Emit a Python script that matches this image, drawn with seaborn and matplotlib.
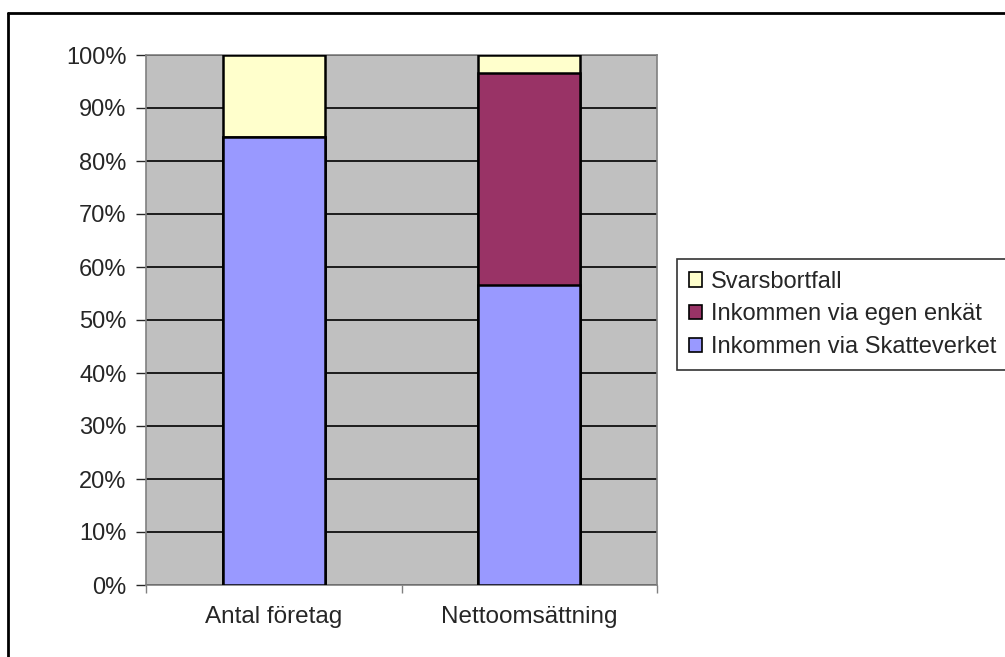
import matplotlib
matplotlib.use("Agg")
import matplotlib.pyplot as plt
from matplotlib.lines import Line2D
from matplotlib.patches import Patch
from matplotlib.ticker import PercentFormatter, FixedLocator
import numpy as np
import pandas as pd
import seaborn as sns

# data (percent of total)
categories = ["Antal företag", "Nettoomsättning"]
skatteverket = [84.5, 56.6]
egen_enkat = [0.0, 40.0]
svarsbortfall = [15.5, 3.4]

series_names = ["Inkommen via Skatteverket", "Inkommen via egen enkät", "Svarsbortfall"]
series_colors = ["#9999FF", "#993366", "#FFFFCC"]

sns.set_style("white")
plt.rcParams["font.family"] = ["Liberation Sans", "DejaVu Sans"]

# cumulative heights for stacking
layers = np.cumsum(np.array([skatteverket, egen_enkat, svarsbortfall]), axis=0)

fig = plt.figure(figsize=(10.05, 6.57), dpi=100)
ax = fig.add_axes([146 / 1005, 72 / 657, 511 / 1005, 530 / 657])
ax.set_facecolor("#C0C0C0")

# draw from the top layer down so lower segments sit in front
for i in range(len(series_names) - 1, -1, -1):
    df = pd.DataFrame({"cat": categories, "val": layers[i]})
    sns.barplot(data=df, x="cat", y="val", color=series_colors[i], width=0.4,
                edgecolor="black", linewidth=1.8, saturation=1, ax=ax, zorder=3)

ax.set_ylim(0, 100)
ax.set_xlim(-0.5, 1.5)
ax.yaxis.set_major_locator(FixedLocator(np.arange(0, 101, 10)))
ax.yaxis.set_major_formatter(PercentFormatter(decimals=0))
ax.grid(axis="y", color="black", linewidth=1.2, zorder=1)
ax.set_axisbelow(True)
ax.set_xlabel("")
ax.set_ylabel("")

ax.tick_params(axis="y", direction="out", length=7, width=1, labelsize=17, pad=7, left=True)
ax.tick_params(axis="x", which="major", length=0, labelsize=17.5, pad=15)
ax.set_xticks([-0.5, 0.5, 1.5], minor=True)
ax.tick_params(axis="x", which="minor", direction="out", length=6, width=1, color="#808080", bottom=True)

for side in ["top", "right", "left", "bottom"]:
    ax.spines[side].set_color("#808080")
    ax.spines[side].set_linewidth(1.2)

handles = [Patch(facecolor=series_colors[i], edgecolor="black", linewidth=1.2)
           for i in range(len(series_names) - 1, -1, -1)]
labels = series_names[::-1]
leg = fig.legend(handles, labels, loc="upper left",
                 bbox_to_anchor=(677 / 1005, 1 - 259 / 657), borderaxespad=0,
                 fontsize=17, frameon=True, fancybox=False, edgecolor="black",
                 handlelength=0.55, handleheight=0.55, handletextpad=0.4,
                 labelspacing=0.45, borderpad=0.5)
leg.get_frame().set_linewidth(1.2)

# outer chart border (only left and top edges visible)
fig.add_artist(Line2D([8 / 1005, 8 / 1005], [0, 1 - 13 / 657], color="black", linewidth=2))
fig.add_artist(Line2D([8 / 1005, 1], [1 - 13 / 657, 1 - 13 / 657], color="black", linewidth=2))

fig.savefig("out.png", dpi=100)
